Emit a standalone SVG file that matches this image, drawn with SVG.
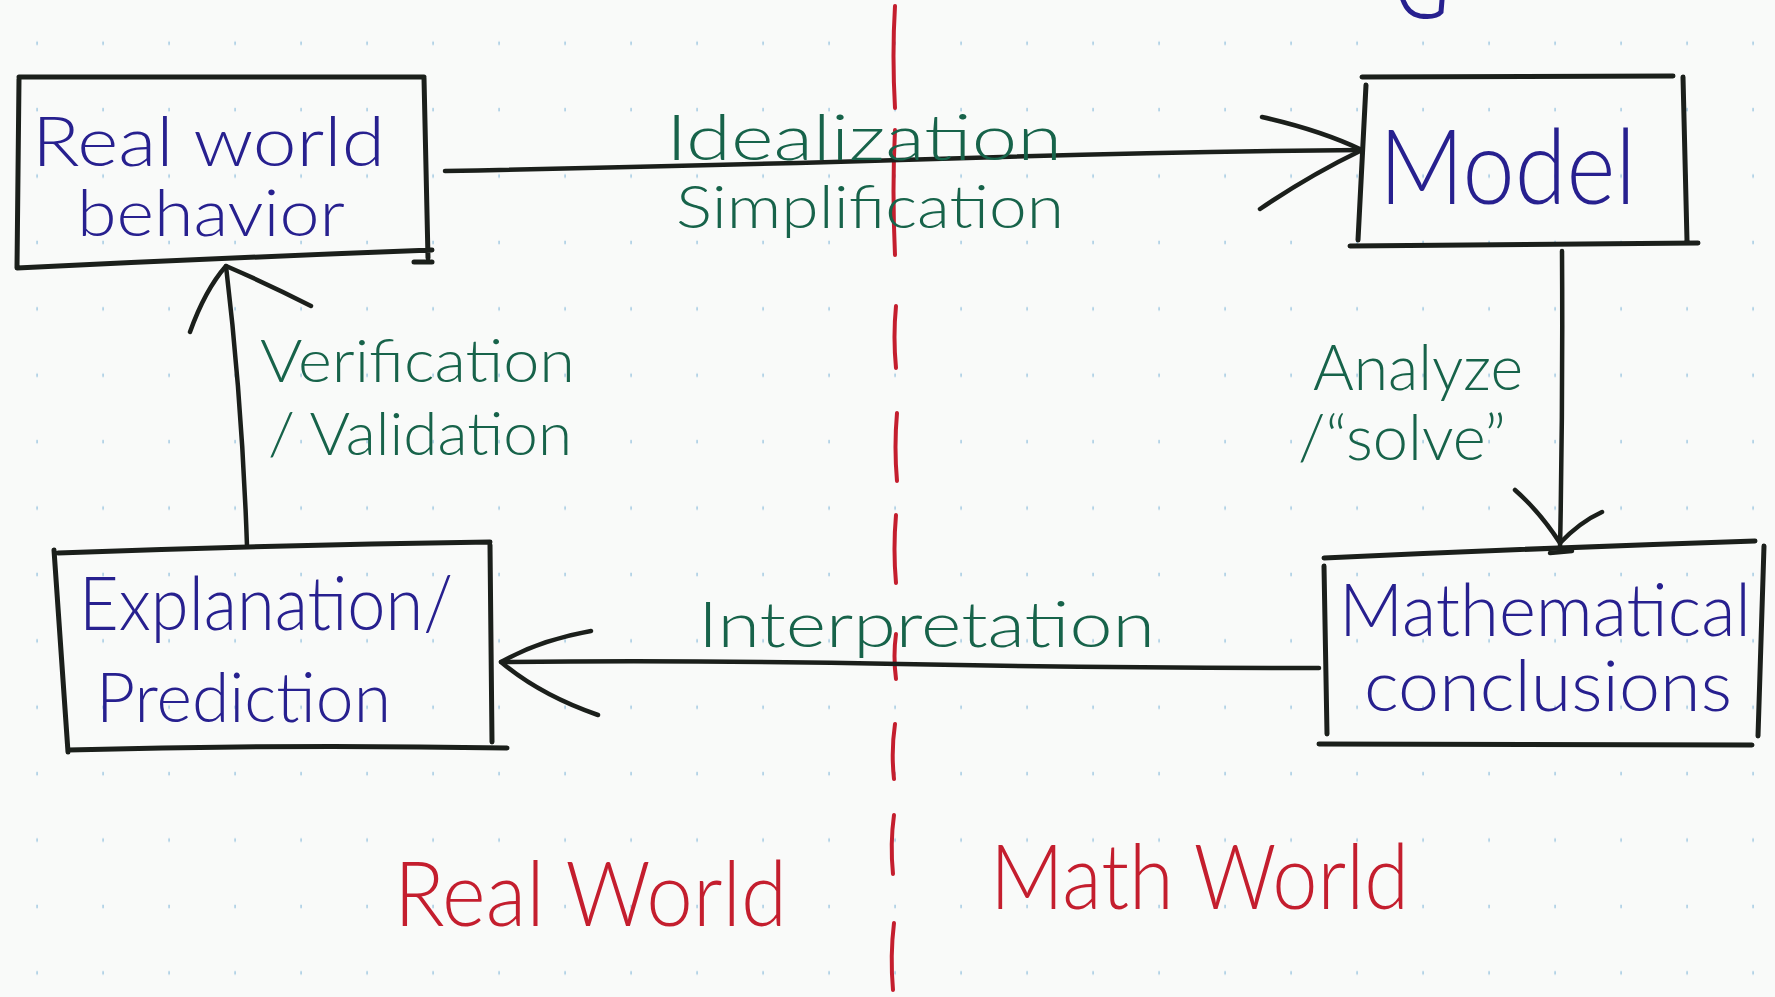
<svg xmlns="http://www.w3.org/2000/svg" width="1775" height="997" viewBox="0 0 1775 997">
<defs>
<pattern id="dots" patternUnits="userSpaceOnUse" x="4" y="10" width="66" height="66.4">
<rect x="32.2" y="31.5" width="1.8" height="3.5" fill="#b3d3e6"/>
</pattern>
<style>
.box{fill:none;stroke:#1b1f1b;stroke-width:5;stroke-linecap:round;stroke-linejoin:round}
.con{fill:none;stroke:#1b1f1b;stroke-width:4.5;stroke-linecap:round;stroke-linejoin:round}
.dash{fill:none;stroke:#c41e2e;stroke-width:4;stroke-linecap:round}
.t{font-family:Lato,"Open Sans","Liberation Sans",sans-serif;font-weight:300}
.node{fill:#27208f}
.lbl{fill:#17634a}
.red{fill:#c41e2e}
</style>
</defs>
<rect width="1775" height="997" fill="#f9faf9"/>
<rect width="1775" height="997" fill="url(#dots)"/>

<g id="divider">
<path class="dash" d="M895 6 Q892 55 895 108"/>
<path class="dash" d="M895 130 Q892 190 895 255"/>
<path class="dash" d="M896 306 Q893 337 896 368"/>
<path class="dash" d="M897 413 Q894 447 897 481"/>
<path class="dash" d="M896 515 Q893 549 896 583"/>
<path class="dash" d="M896 634 Q893 656 896 679"/>
<path class="dash" d="M895 724 Q891 751 894 779"/>
<path class="dash" d="M894 815 Q890 844 893 874"/>
<path class="dash" d="M894 923 Q890 956 893 990"/>
</g>

<path d="M1403 0 Q1408 14 1420 16 Q1436 18 1441 12 L1442 0" fill="none" stroke="#27208f" stroke-width="5" stroke-linecap="round"/>

<g id="connectors">
<path class="con" d="M445 171 Q700 166 900 160 Q1150 152 1362 150"/>
<path class="con" d="M1262 117 Q1320 130 1362 150 Q1310 175 1260 209"/>
<path class="con" d="M1562 251 Q1563 400 1560 549"/>
<path class="con" d="M1515 490 Q1540 512 1560 543 Q1580 522 1602 512"/>
<path class="con" d="M1550 553 L1572 551"/>
<path class="con" d="M1319 668 Q1100 668 900 664 Q700 660 501 662"/>
<path class="con" d="M591 631 Q540 640 501 662 Q540 695 598 715"/>
<path class="con" d="M247 546 Q242 400 226 266"/>
<path class="con" d="M190 332 Q205 290 226 266 Q270 285 311 306"/>
</g>

<g id="node-real-world">
<path class="box" d="M19 77 L424 77 M19 79 L17 268 M17 268 Q220 258 432 250 M424 78 L428 258 M414 262 L432 262"/>
<text class="t node" x="32" y="166" font-size="68" textLength="353" lengthAdjust="spacingAndGlyphs">Real world</text>
<text class="t node" x="77" y="236" font-size="66" textLength="268" lengthAdjust="spacingAndGlyphs">behavior</text>
</g>

<g id="node-model">
<path class="box" d="M1362 77 L1673 76 M1366 85 L1358 240 M1683 77 L1687 241 M1350 246 L1698 243"/>
<text class="t node" x="1379" y="204" font-size="104" textLength="257" lengthAdjust="spacingAndGlyphs">Model</text>
</g>

<g id="node-math-conclusions">
<path class="box" d="M1324 558 Q1540 548 1755 541 M1324 566 L1327 734 M1764 546 L1758 736 M1319 744 L1752 745"/>
<text class="t node" x="1339" y="636" font-size="72" textLength="412" lengthAdjust="spacingAndGlyphs">Mathematical</text>
<text class="t node" x="1364" y="711" font-size="70" textLength="368" lengthAdjust="spacingAndGlyphs">conclusions</text>
</g>

<g id="node-explanation">
<path class="box" d="M58 553 Q270 545 490 542 M54 550 L68 752 M490 545 L492 742 M68 750 Q290 744 507 748"/>
<text class="t node" x="79" y="630" font-size="74" textLength="374" lengthAdjust="spacingAndGlyphs">Explanation/</text>
<text class="t node" x="96" y="722" font-size="68" textLength="295" lengthAdjust="spacingAndGlyphs">Prediction</text>
</g>

<g id="labels">
<text class="t lbl" x="666" y="160" font-size="64" textLength="396" lengthAdjust="spacingAndGlyphs">Idealization</text>
<text class="t lbl" x="676" y="228" font-size="60" textLength="388" lengthAdjust="spacingAndGlyphs">Simplification</text>
<text class="t lbl" x="1313" y="390" font-size="64" textLength="210" lengthAdjust="spacingAndGlyphs">Analyze</text>
<text class="t lbl" x="1298" y="460" font-size="64" textLength="208" lengthAdjust="spacingAndGlyphs">/“solve”</text>
<text class="t lbl" x="698" y="647" font-size="64" textLength="457" lengthAdjust="spacingAndGlyphs">Interpretation</text>
<text class="t lbl" x="260" y="382" font-size="60" textLength="315" lengthAdjust="spacingAndGlyphs">Verification</text>
<text class="t lbl" x="268" y="455" font-size="60" textLength="304" lengthAdjust="spacingAndGlyphs">/ Validation</text>
</g>

<g id="regions">
<text class="t red" x="394" y="926" font-size="90" textLength="393" lengthAdjust="spacingAndGlyphs">Real World</text>
<text class="t red" x="990" y="909" font-size="90" textLength="419" lengthAdjust="spacingAndGlyphs">Math World</text>
</g>
</svg>
